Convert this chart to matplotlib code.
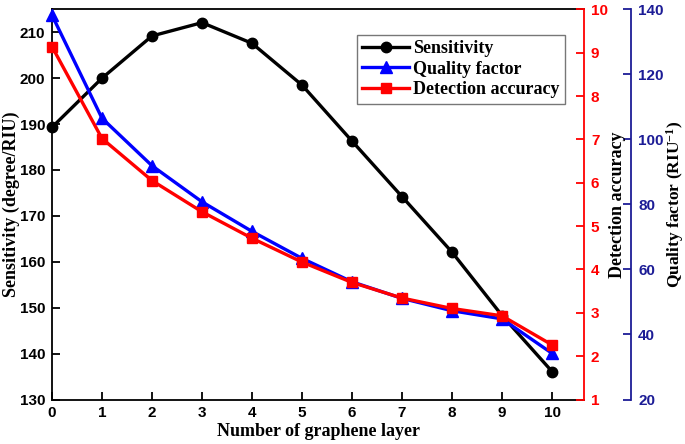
import matplotlib
matplotlib.use("Agg")
import matplotlib.pyplot as plt

plt.rcParams["mathtext.fontset"] = "custom"
plt.rcParams["mathtext.rm"] = "Liberation Serif:bold"
plt.rcParams["mathtext.it"] = "Liberation Serif:bold"
plt.rcParams["mathtext.bf"] = "Liberation Serif:bold"

layers = [0, 1, 2, 3, 4, 5, 6, 7, 8, 9, 10]
sensitivity = [189.3, 200.0, 209.2, 212.1, 207.6, 198.5, 186.3, 174.2, 162.1, 148.3, 136.1]
quality_factor = [138.2, 106.5, 91.9, 80.8, 71.7, 63.4, 56.2, 51.1, 47.3, 44.8, 34.2]
detection_acc = [9.14, 7.02, 6.05, 5.33, 4.72, 4.17, 3.70, 3.34, 3.10, 2.93, 2.26]

RED = "#ff0000"
BLUE = "#0000ff"
NAVY = "#1c1c96"

tick_font = {"family": "Liberation Sans", "weight": "bold", "size": 11}
label_font = {"family": "Liberation Serif", "weight": "bold", "size": 13}

fig = plt.figure(figsize=(6.85, 4.44), dpi=100)
ax = fig.add_axes([0.0759, 0.1002, 0.7767, 0.8788])
ax_q = ax.twinx()
ax_d = ax.twinx()

l1, = ax.plot(layers, sensitivity, color="black", lw=2.4, marker="o", ms=7.5,
              label="Sensitivity", clip_on=False)
l2, = ax_q.plot(layers, quality_factor, color=BLUE, lw=2.4, marker="^", ms=8,
                label="Quality factor", clip_on=False)
l3, = ax_d.plot(layers, detection_acc, color=RED, lw=2.4, marker="s", ms=7,
                label="Detection accuracy", clip_on=False)

ax.set_xlim(0, 10.64)
ax.set_ylim(130, 215)
ax.set_xticks(range(0, 11))
ax.set_yticks(range(130, 211, 10))
ax_d.set_ylim(1, 10)
ax_d.set_yticks(range(1, 11))
ax_q.set_ylim(20, 140)
ax_q.set_yticks(range(20, 141, 20))

ax_q.spines["right"].set_position(("outward", 34))

for sp in ["left", "bottom", "top", "right"]:
    ax.spines[sp].set_linewidth(1.3)
ax.spines["right"].set_visible(False)
for a in (ax_q, ax_d):
    a.spines["left"].set_visible(False)
    a.spines["top"].set_visible(False)
    a.spines["bottom"].set_visible(False)
ax_d.spines["right"].set_color(RED)
ax_d.spines["right"].set_linewidth(1.3)
ax_q.spines["right"].set_color(NAVY)
ax_q.spines["right"].set_linewidth(1.3)

ax.tick_params(axis="both", direction="in", length=6, width=1.3, top=False, right=False)
ax.tick_params(axis="x", pad=5)
ax.tick_params(axis="y", pad=5)
ax_d.tick_params(axis="y", direction="in", length=6, width=1.3, colors=RED, pad=5)
ax_q.tick_params(axis="y", direction="in", length=6, width=1.3, colors=NAVY, pad=5)

for a in (ax, ax_d, ax_q):
    for lab in a.get_xticklabels() + a.get_yticklabels():
        lab.set_fontfamily(tick_font["family"])
        lab.set_fontweight(tick_font["weight"])
        lab.set_fontsize(tick_font["size"])

ax.set_xlabel("Number of graphene layer", fontdict=label_font, labelpad=2)
ax.set_ylabel("Sensitivity (degree/RIU)", fontdict=label_font, labelpad=0)
ax_d.set_ylabel("Detection accuracy", fontdict=label_font, labelpad=1)
ax_q.set_ylabel("Quality factor (RIU$^{-1}$)",
                fontdict={"family": "Liberation Serif", "weight": "bold", "size": 12.5},
                labelpad=0)

leg = ax_d.legend(handles=[l1, l2, l3], loc="upper right",
                  bbox_to_anchor=(0.965, 0.935), frameon=True, fancybox=False,
                  prop={"family": "Liberation Serif", "weight": "bold", "size": 13},
                  handlelength=2.6, handletextpad=0.25, borderpad=0.3,
                  labelspacing=0.2, borderaxespad=0)
leg.get_frame().set_edgecolor("#555555")
leg.get_frame().set_linewidth(1.0)

fig.savefig("out.png", dpi=100)
